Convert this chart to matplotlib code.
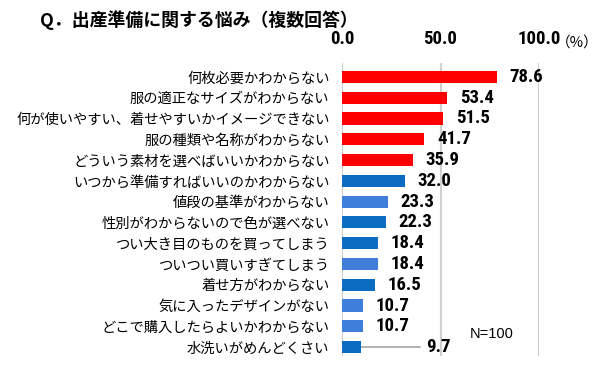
import matplotlib
matplotlib.use("Agg")
import matplotlib.pyplot as plt
import numpy as np

plt.rcParams['font.family'] = ['Noto Sans CJK JP', 'DejaVu Sans']

categories = [
    "何枚必要かわからない",
    "服の適正なサイズがわからない",
    "何が使いやすい、着せやすいかイメージできない",
    "服の種類や名称がわからない",
    "どういう素材を選べばいいかわからない",
    "いつから準備すればいいのかわからない",
    "値段の基準がわからない",
    "性別がわからないので色が選べない",
    "つい大き目のものを買ってしまう",
    "ついつい買いすぎてしまう",
    "着せ方がわからない",
    "気に入ったデザインがない",
    "どこで購入したらよいかわからない",
    "水洗いがめんどくさい",
]
values = [78.6, 53.4, 51.5, 41.7, 35.9, 32.0, 23.3, 22.3, 18.4, 18.4, 16.5, 10.7, 10.7, 9.7]
highlight = [True, True, True, True, True, False, False, False, False, False, False, False, False, False]
shade = [0, 0, 0, 0, 0, 0, 1, 0, 0, 1, 0, 1, 1, 0]
xticks = [0, 50, 100]

RED = "#FF0000"
BLUES = ["#0A6DC2", "#3F7FDB"]
colors = [RED if h else BLUES[s] for h, s in zip(highlight, shade)]

num_font = dict(family=['Roboto Condensed', 'DejaVu Sans'], weight='bold')

fig = plt.figure(figsize=(6.11, 3.89), dpi=100)
ax = fig.add_axes([342 / 611, 1 - 356 / 389, 197 / 611, 293 / 389])

y = np.arange(len(categories))
ax.barh(y, values, height=0.58, color=colors, zorder=3)
ax.set_ylim(len(categories) - 1 + 0.43, -0.67)
ax.set_xlim(0, 100)

ax.set_xticks(xticks)
ax.set_xticklabels([f"{t:.1f}" for t in xticks], fontsize=13.5, **num_font)
ax.xaxis.tick_top()
ax.tick_params(axis='x', length=0, pad=10.5)
ax.set_yticks(y)
ax.set_yticklabels(categories, fontsize=10.3)
ax.tick_params(axis='y', length=0, pad=9)
ax.grid(axis='x', color='#D0D0D0', linewidth=1.5, zorder=0)
for s in ax.spines.values():
    s.set_visible(False)

for yi, v in zip(y, values):
    if v < 10:
        lx = v + 33
        ax.plot([v, lx - 3], [yi, yi], color='#A6A6A6', linewidth=1.2, zorder=2)
    else:
        lx = v + 6.5
    ax.text(lx, yi, f"{v:.1f}", va='center', ha='left', fontsize=13.5, **num_font)

fig.text(40 / 611, 1 - 20 / 389, "Q．出産準備に関する悩み（複数回答）", fontsize=12.9,
         weight='bold', va='center', ha='left')
fig.text(556 / 611, 1 - 43 / 389, "（%）", fontsize=10.5, va='center', ha='left')
fig.text(470 / 611, 1 - 334 / 389, "N=100", fontsize=10.5,
         va='center', ha='left', family=['Liberation Sans', 'DejaVu Sans'])

fig.savefig("out.png", dpi=100)
